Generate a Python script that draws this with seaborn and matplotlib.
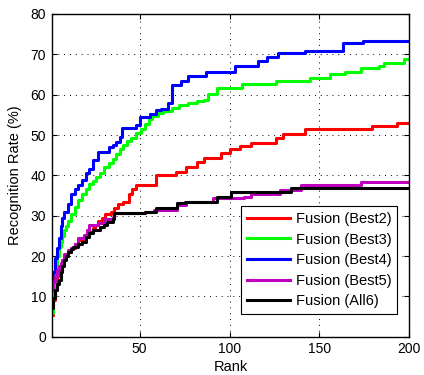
import pandas as pd
import matplotlib
matplotlib.use('Agg')
import matplotlib.pyplot as plt
from matplotlib.lines import Line2D
import seaborn as sns

# step breakpoints (rank, recognition rate)
best2_rank = [1, 2, 3, 4, 5, 6, 7, 8, 10, 12, 14, 16, 19, 21, 24, 25, 27, 29, 31, 34, 36, 38, 41, 44, 46, 48,
              59, 70, 76, 82, 86, 95, 100, 106, 112, 126, 130, 142, 179, 193, 200]
best2_rate = [5.5, 9, 13, 15, 16.5, 18, 19, 20, 21, 22, 23, 24, 25, 26, 27, 27.8, 28.8, 29.5, 30.3, 31, 32, 32.8, 33.5, 35.5, 36.5, 37.6,
              40.1, 40.9, 42.1, 43.4, 44.2, 45.5, 46.6, 47.3, 48.1, 49.3, 50.3, 51.4, 52.2, 52.9, 52.9]

best3_rank = [1, 2, 3, 4, 5, 6, 7, 8, 9, 10, 12, 14, 16, 18, 20, 22, 24, 26, 28, 30, 33, 35, 37, 39, 41, 43, 45, 48,
              51, 53, 55, 57, 60, 63, 68, 72, 77, 82, 86, 88, 93, 107, 126, 145, 156, 164, 173, 183, 186, 197, 200]
best3_rate = [6, 12, 17.4, 20, 22.2, 23.5, 25, 26.5, 27.5, 28.8, 30.5, 32.1, 34, 35.4, 36.5, 37.9, 38.7, 39.6, 40.5, 42.1, 43, 44, 45.4, 46.5, 47.5, 48.5, 49.3, 50.5,
              51.6, 52.8, 54, 54.8, 55.4, 56, 56.7, 57.5, 58, 58.4, 58.8, 60.1, 61.7, 62.6, 63.4, 64.2, 65.1, 65.7, 66.5, 67.2, 67.9, 68.8, 68.8]

best4_rank = [1, 2, 3, 4, 5, 6, 7, 8, 10, 12, 14, 16, 18, 20, 22, 24, 27, 33, 35, 37, 39, 40, 48, 50, 56, 59, 62, 66,
              68, 73, 77, 87, 103, 116, 121, 127, 142, 163, 174, 200]
best4_rate = [11.7, 16, 19.5, 22, 24.5, 27.5, 29.5, 31, 33, 35.5, 36.5, 37.5, 38.8, 40.5, 41.5, 43.8, 45.9, 47, 47.5, 48.3, 49.6, 51.7, 52.5, 54.5, 55.2, 56.2, 56.5, 57.9,
              62.4, 63.4, 64.6, 65.5, 67.1, 68.3, 69.3, 70.3, 70.9, 72.7, 73.4, 73.4]

best5_rank = [1, 2, 3, 4, 5, 6, 7, 8, 10, 12, 14, 16, 19, 21, 22, 27, 30, 35, 36, 53, 58, 71, 76, 91, 108, 112, 128, 140, 173, 200]
best5_rate = [11.6, 13.5, 15, 16.5, 17.5, 18.3, 19, 20.5, 21.5, 22, 23, 24.4, 25.2, 26.5, 27.7, 28.1, 29.3, 29.7, 30.6, 31, 31.4, 32.6, 33.5, 34.3, 34.7, 35.5, 36.4, 37.6, 38.4, 38.4]

all6_rank = [1, 2, 3, 4, 5, 6, 7, 8, 9, 10, 12, 13, 16, 18, 20, 22, 24, 28, 30, 32, 35, 36, 53, 59, 71, 75, 93, 101, 134, 200]
all6_rate = [7, 9.5, 11.6, 13, 14.1, 16, 17.5, 19, 20, 21.1, 21.7, 22.3, 23, 23.6, 24.8, 25.6, 26.4, 27.3, 27.8, 28.5, 29.3, 30.6, 31, 31.8, 33.1, 33.5, 34.7, 35.8, 36.8, 36.8]

labels = ['Fusion (Best2)', 'Fusion (Best3)', 'Fusion (Best4)', 'Fusion (Best5)', 'Fusion (All6)']
colors = ['#ff0000', '#00ff00', '#0000ff', '#bf00bf', '#000000']

series = [(best2_rank, best2_rate), (best3_rank, best3_rate), (best4_rank, best4_rate),
          (best5_rank, best5_rate), (all6_rank, all6_rate)]
frames = []
for lab, (r, v) in zip(labels, series):
    frames.append(pd.DataFrame({'Rank': r, 'Rate': v, 'Method': lab}))
df = pd.concat(frames, ignore_index=True)

plt.rcParams['font.family'] = ['Liberation Sans', 'DejaVu Sans']

fig = plt.figure(figsize=(4.24, 3.75), dpi=100)
ax = fig.add_axes([0.1215, 0.1021, 0.8438, 0.8606])

sns.lineplot(data=df, x='Rank', y='Rate', hue='Method', hue_order=labels,
             palette=dict(zip(labels, colors)), drawstyle='steps-post',
             linewidth=2.2, errorbar=None, legend=False, ax=ax)

ax.set_xlim(1, 200)
ax.set_ylim(0, 80)
ax.set_xticks([50, 100, 150, 200])
ax.set_yticks(range(0, 81, 10))
ax.tick_params(direction='in', top=True, right=True, length=3.5, width=0.8, labelsize=10, pad=4)
ax.grid(True, color='k', linestyle=(0, (1, 5)), linewidth=0.7)
for s in ax.spines.values():
    s.set_linewidth(1.0)
ax.set_xlabel('Rank', fontsize=10.5, labelpad=3)
ax.set_ylabel('Recognition Rate (%)', fontsize=10.5, labelpad=6)

handles = [Line2D([], [], color=c, lw=2.2) for c in colors]
leg = ax.legend(handles, labels, loc='lower right', bbox_to_anchor=(0.9656, 0.0703),
                borderaxespad=0, fontsize=10.5, fancybox=False, framealpha=1,
                edgecolor='k', handlelength=3.0, handletextpad=0.35,
                labelspacing=0.45, borderpad=0.4)
leg.get_frame().set_linewidth(0.8)

fig.savefig('out.png', dpi=100)
